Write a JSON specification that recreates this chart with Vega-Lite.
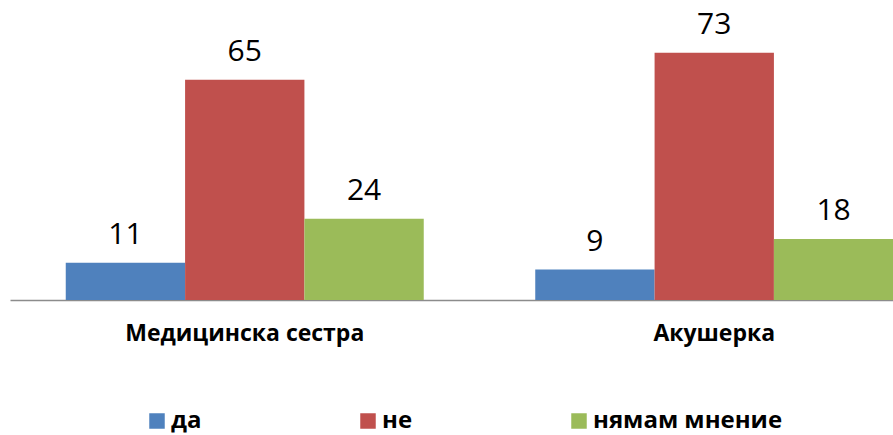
{
  "$schema": "https://vega.github.io/schema/vega-lite/v6.json",
  "autosize": {"type": "none"},
  "padding": {"left": 10, "top": 29, "right": 0, "bottom": 135},
  "width": 939,
  "height": 271,
  "background": "white",
  "config": {"view": {"stroke": null}, "font": "Open Sans"},
  "data": {"values": [
    {"group": "Медицинска сестра", "answer": "да", "value": 11},
    {"group": "Медицинска сестра", "answer": "не", "value": 65},
    {"group": "Медицинска сестра", "answer": "нямам мнение", "value": 24},
    {"group": "Акушерка", "answer": "да", "value": 9},
    {"group": "Акушерка", "answer": "не", "value": 73},
    {"group": "Акушерка", "answer": "нямам мнение", "value": 18}
  ]},
  "encoding": {
    "x": {"field": "group", "type": "nominal", "sort": ["Медицинска сестра", "Акушерка"],
      "scale": {"paddingInner": 0.2375, "paddingOuter": 0.11875},
      "axis": {"title": null, "ticks": false, "domainColor": "#8c8c8c", "domainWidth": 1.5,
        "labelAngle": 0, "labelFontSize": 23, "labelFontWeight": "bold", "labelColor": "#000000",
        "labelPadding": 22, "labelLimit": 0, "labelFont": "Open Sans"}},
    "xOffset": {"field": "answer", "type": "nominal", "sort": ["да", "не", "нямам мнение"], "scale": {"paddingInner": 0, "paddingOuter": 0}},
    "y": {"field": "value", "type": "quantitative", "scale": {"domain": [0, 80], "nice": false},
      "axis": null}
  },
  "layer": [
    {
      "mark": {"type": "bar"},
      "encoding": {
        "color": {"field": "answer", "type": "nominal",
          "scale": {"domain": ["да", "не", "нямам мнение"], "range": ["#4F81BD", "#C0504D", "#9BBB59"]},
          "legend": {"title": null, "orient": "none", "legendX": 135, "legendY": 380, "direction": "horizontal",
            "symbolType": "square", "symbolSize": 240, "symbolStrokeWidth": 0, "labelFontSize": 24, "labelFontWeight": "bold",
            "labelColor": "#000000", "labelOffset": 2, "columnPadding": 154, "labelLimit": 0, "labelFont": "Open Sans"}}
      }
    },
    {
      "mark": {"type": "text", "baseline": "alphabetic", "dy": -19, "fontSize": 30, "color": "#000000", "font": "Open Sans"},
      "encoding": {"text": {"field": "value", "type": "quantitative"}}
    }
  ]
}
